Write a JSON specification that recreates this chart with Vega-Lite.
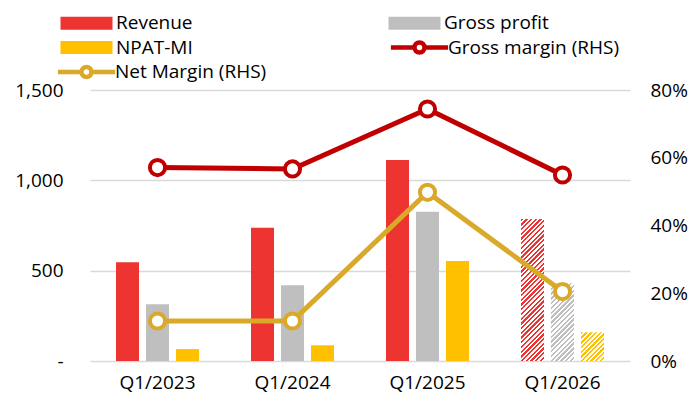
{
 "$schema": "https://vega.github.io/schema/vega-lite/v6.json",
 "width": 540, "height": 271,
 "autosize": {"type": "none"},
 "padding": {"left": 90, "top": 90, "right": 63, "bottom": 41},
 "background": "white",
 "config": {
  "font": "Open Sans",
  "view": {"stroke": null},
  "axis": {"labelFont": "Open Sans", "labelFontSize": 19, "labelColor": "#000", "domain": false, "ticks": false, "title": null},
  "legend": {"title": null, "orient": "none", "labelFont": "Open Sans", "labelFontSize": 19, "labelColor": "#000", "labelLimit": 400, "padding": 0, "symbolSize": 100, "symbolOpacity": 1, "rowPadding": 4.5}
 },
 "datasets": {
  "bars": [
   {"quarter": "Q1/2023", "series": "Revenue", "value": 546, "forecast": false},
   {"quarter": "Q1/2023", "series": "Gross profit", "value": 314, "forecast": false},
   {"quarter": "Q1/2023", "series": "NPAT-MI", "value": 66, "forecast": false},
   {"quarter": "Q1/2024", "series": "Revenue", "value": 738, "forecast": false},
   {"quarter": "Q1/2024", "series": "Gross profit", "value": 419, "forecast": false},
   {"quarter": "Q1/2024", "series": "NPAT-MI", "value": 87, "forecast": false},
   {"quarter": "Q1/2025", "series": "Revenue", "value": 1113, "forecast": false},
   {"quarter": "Q1/2025", "series": "Gross profit", "value": 826, "forecast": false},
   {"quarter": "Q1/2025", "series": "NPAT-MI", "value": 553, "forecast": false},
   {"quarter": "Q1/2026", "series": "Revenue", "value": 786, "forecast": true},
   {"quarter": "Q1/2026", "series": "Gross profit", "value": 430, "forecast": true},
   {"quarter": "Q1/2026", "series": "NPAT-MI", "value": 159, "forecast": true}
  ],
  "margins": [
   {"quarter": "Q1/2023", "series": "Gross margin (RHS)", "margin": 0.571},
   {"quarter": "Q1/2024", "series": "Gross margin (RHS)", "margin": 0.567},
   {"quarter": "Q1/2025", "series": "Gross margin (RHS)", "margin": 0.744},
   {"quarter": "Q1/2026", "series": "Gross margin (RHS)", "margin": 0.549},
   {"quarter": "Q1/2023", "series": "Net Margin (RHS)", "margin": 0.118},
   {"quarter": "Q1/2024", "series": "Net Margin (RHS)", "margin": 0.118},
   {"quarter": "Q1/2025", "series": "Net Margin (RHS)", "margin": 0.498},
   {"quarter": "Q1/2026", "series": "Net Margin (RHS)", "margin": 0.205}
  ]
 },
 "layer": [
  {
   "data": {"name": "bars"},
   "encoding": {
    "x": {"field": "quarter", "type": "nominal", "scale": {"domain": ["Q1/2023", "Q1/2024", "Q1/2025", "Q1/2026"], "paddingInner": 0, "paddingOuter": 0}, "axis": {"labelAngle": 0, "labelPadding": 12, "grid": false}},
    "xOffset": {"field": "series", "type": "nominal", "scale": {"domain": ["Revenue", "Gross profit", "NPAT-MI"], "paddingInner": 0.233, "paddingOuter": 0.867}},
    "y": {"field": "value", "type": "quantitative", "scale": {"domain": [0, 1500]}, "axis": {"orient": "left", "values": [0, 500, 1000, 1500], "labelExpr": "datum.value === 0 ? '-\u00a0\u00a0' : format(datum.value, ',')", "grid": true, "gridColor": "#d9d9d9", "gridWidth": 1.5, "labelPadding": 27}}
   },
   "layer": [
    {
     "transform": [{"filter": "!datum.forecast"}],
     "mark": {"type": "bar"},
     "encoding": {
      "fill": {"field": "series", "type": "nominal",
       "scale": {"domain": ["Revenue", "Gross profit", "NPAT-MI"], "range": ["#EE3430", "#BFBFBF", "#FFC000"]},
       "legend": {"legendX": -34, "legendY": -76.5, "direction": "horizontal", "columns": 2, "columnPadding": 191, "symbolType": "M-1,-1.3H9.4V1.3H-1Z", "symbolStrokeWidth": 0, "labelOffset": 41}
      }
     }
    },
    {
     "transform": [{"filter": "datum.forecast && datum.series === 'Revenue'"}],
     "mark": {"type": "bar", "fill": {"gradient": "linear", "x1": 0, "y1": 0, "x2": 0.1834, "y2": 1.1323, "stops": [
      {"offset": 0, "color": "#EE3430"},
      {"offset": 0.0143, "color": "#EE3430"}, {"offset": 0.0143, "color": "#fff"},
      {"offset": 0.0286, "color": "#fff"}, {"offset": 0.0286, "color": "#EE3430"},
      {"offset": 0.0429, "color": "#EE3430"}, {"offset": 0.0429, "color": "#fff"},
      {"offset": 0.0571, "color": "#fff"}, {"offset": 0.0571, "color": "#EE3430"},
      {"offset": 0.0714, "color": "#EE3430"}, {"offset": 0.0714, "color": "#fff"},
      {"offset": 0.0857, "color": "#fff"}, {"offset": 0.0857, "color": "#EE3430"},
      {"offset": 0.1, "color": "#EE3430"}, {"offset": 0.1, "color": "#fff"},
      {"offset": 0.1143, "color": "#fff"}, {"offset": 0.1143, "color": "#EE3430"},
      {"offset": 0.1286, "color": "#EE3430"}, {"offset": 0.1286, "color": "#fff"},
      {"offset": 0.1429, "color": "#fff"}, {"offset": 0.1429, "color": "#EE3430"},
      {"offset": 0.1571, "color": "#EE3430"}, {"offset": 0.1571, "color": "#fff"},
      {"offset": 0.1714, "color": "#fff"}, {"offset": 0.1714, "color": "#EE3430"},
      {"offset": 0.1857, "color": "#EE3430"}, {"offset": 0.1857, "color": "#fff"},
      {"offset": 0.2, "color": "#fff"}, {"offset": 0.2, "color": "#EE3430"},
      {"offset": 0.2143, "color": "#EE3430"}, {"offset": 0.2143, "color": "#fff"},
      {"offset": 0.2286, "color": "#fff"}, {"offset": 0.2286, "color": "#EE3430"},
      {"offset": 0.2429, "color": "#EE3430"}, {"offset": 0.2429, "color": "#fff"},
      {"offset": 0.2571, "color": "#fff"}, {"offset": 0.2571, "color": "#EE3430"},
      {"offset": 0.2714, "color": "#EE3430"}, {"offset": 0.2714, "color": "#fff"},
      {"offset": 0.2857, "color": "#fff"}, {"offset": 0.2857, "color": "#EE3430"},
      {"offset": 0.3, "color": "#EE3430"}, {"offset": 0.3, "color": "#fff"},
      {"offset": 0.3143, "color": "#fff"}, {"offset": 0.3143, "color": "#EE3430"},
      {"offset": 0.3286, "color": "#EE3430"}, {"offset": 0.3286, "color": "#fff"},
      {"offset": 0.3429, "color": "#fff"}, {"offset": 0.3429, "color": "#EE3430"},
      {"offset": 0.3571, "color": "#EE3430"}, {"offset": 0.3571, "color": "#fff"},
      {"offset": 0.3714, "color": "#fff"}, {"offset": 0.3714, "color": "#EE3430"},
      {"offset": 0.3857, "color": "#EE3430"}, {"offset": 0.3857, "color": "#fff"},
      {"offset": 0.4, "color": "#fff"}, {"offset": 0.4, "color": "#EE3430"},
      {"offset": 0.4143, "color": "#EE3430"}, {"offset": 0.4143, "color": "#fff"},
      {"offset": 0.4286, "color": "#fff"}, {"offset": 0.4286, "color": "#EE3430"},
      {"offset": 0.4429, "color": "#EE3430"}, {"offset": 0.4429, "color": "#fff"},
      {"offset": 0.4571, "color": "#fff"}, {"offset": 0.4571, "color": "#EE3430"},
      {"offset": 0.4714, "color": "#EE3430"}, {"offset": 0.4714, "color": "#fff"},
      {"offset": 0.4857, "color": "#fff"}, {"offset": 0.4857, "color": "#EE3430"},
      {"offset": 0.5, "color": "#EE3430"}, {"offset": 0.5, "color": "#fff"},
      {"offset": 0.5143, "color": "#fff"}, {"offset": 0.5143, "color": "#EE3430"},
      {"offset": 0.5286, "color": "#EE3430"}, {"offset": 0.5286, "color": "#fff"},
      {"offset": 0.5429, "color": "#fff"}, {"offset": 0.5429, "color": "#EE3430"},
      {"offset": 0.5571, "color": "#EE3430"}, {"offset": 0.5571, "color": "#fff"},
      {"offset": 0.5714, "color": "#fff"}, {"offset": 0.5714, "color": "#EE3430"},
      {"offset": 0.5857, "color": "#EE3430"}, {"offset": 0.5857, "color": "#fff"},
      {"offset": 0.6, "color": "#fff"}, {"offset": 0.6, "color": "#EE3430"},
      {"offset": 0.6143, "color": "#EE3430"}, {"offset": 0.6143, "color": "#fff"},
      {"offset": 0.6286, "color": "#fff"}, {"offset": 0.6286, "color": "#EE3430"},
      {"offset": 0.6429, "color": "#EE3430"}, {"offset": 0.6429, "color": "#fff"},
      {"offset": 0.6571, "color": "#fff"}, {"offset": 0.6571, "color": "#EE3430"},
      {"offset": 0.6714, "color": "#EE3430"}, {"offset": 0.6714, "color": "#fff"},
      {"offset": 0.6857, "color": "#fff"}, {"offset": 0.6857, "color": "#EE3430"},
      {"offset": 0.7, "color": "#EE3430"}, {"offset": 0.7, "color": "#fff"},
      {"offset": 0.7143, "color": "#fff"}, {"offset": 0.7143, "color": "#EE3430"},
      {"offset": 0.7286, "color": "#EE3430"}, {"offset": 0.7286, "color": "#fff"},
      {"offset": 0.7429, "color": "#fff"}, {"offset": 0.7429, "color": "#EE3430"},
      {"offset": 0.7571, "color": "#EE3430"}, {"offset": 0.7571, "color": "#fff"},
      {"offset": 0.7714, "color": "#fff"}, {"offset": 0.7714, "color": "#EE3430"},
      {"offset": 0.7857, "color": "#EE3430"}, {"offset": 0.7857, "color": "#fff"},
      {"offset": 0.8, "color": "#fff"}, {"offset": 0.8, "color": "#EE3430"},
      {"offset": 0.8143, "color": "#EE3430"}, {"offset": 0.8143, "color": "#fff"},
      {"offset": 0.8286, "color": "#fff"}, {"offset": 0.8286, "color": "#EE3430"},
      {"offset": 0.8429, "color": "#EE3430"}, {"offset": 0.8429, "color": "#fff"},
      {"offset": 0.8571, "color": "#fff"}, {"offset": 0.8571, "color": "#EE3430"},
      {"offset": 0.8714, "color": "#EE3430"}, {"offset": 0.8714, "color": "#fff"},
      {"offset": 0.8857, "color": "#fff"}, {"offset": 0.8857, "color": "#EE3430"},
      {"offset": 0.9, "color": "#EE3430"}, {"offset": 0.9, "color": "#fff"},
      {"offset": 0.9143, "color": "#fff"}, {"offset": 0.9143, "color": "#EE3430"},
      {"offset": 0.9286, "color": "#EE3430"}, {"offset": 0.9286, "color": "#fff"},
      {"offset": 0.9429, "color": "#fff"}, {"offset": 0.9429, "color": "#EE3430"},
      {"offset": 0.9571, "color": "#EE3430"}, {"offset": 0.9571, "color": "#fff"},
      {"offset": 0.9714, "color": "#fff"}, {"offset": 0.9714, "color": "#EE3430"},
      {"offset": 0.9857, "color": "#EE3430"}, {"offset": 0.9857, "color": "#fff"},
      {"offset": 1, "color": "#fff"}
     ]}}
    },
    {
     "transform": [{"filter": "datum.forecast && datum.series === 'Gross profit'"}],
     "mark": {"type": "bar", "fill": {"gradient": "linear", "x1": 0, "y1": 0, "x2": 0.3527, "y2": 1.1916, "stops": [
      {"offset": 0, "color": "#BFBFBF"},
      {"offset": 0.0238, "color": "#BFBFBF"}, {"offset": 0.0238, "color": "#fff"},
      {"offset": 0.0476, "color": "#fff"}, {"offset": 0.0476, "color": "#BFBFBF"},
      {"offset": 0.0714, "color": "#BFBFBF"}, {"offset": 0.0714, "color": "#fff"},
      {"offset": 0.0952, "color": "#fff"}, {"offset": 0.0952, "color": "#BFBFBF"},
      {"offset": 0.119, "color": "#BFBFBF"}, {"offset": 0.119, "color": "#fff"},
      {"offset": 0.1429, "color": "#fff"}, {"offset": 0.1429, "color": "#BFBFBF"},
      {"offset": 0.1667, "color": "#BFBFBF"}, {"offset": 0.1667, "color": "#fff"},
      {"offset": 0.1905, "color": "#fff"}, {"offset": 0.1905, "color": "#BFBFBF"},
      {"offset": 0.2143, "color": "#BFBFBF"}, {"offset": 0.2143, "color": "#fff"},
      {"offset": 0.2381, "color": "#fff"}, {"offset": 0.2381, "color": "#BFBFBF"},
      {"offset": 0.2619, "color": "#BFBFBF"}, {"offset": 0.2619, "color": "#fff"},
      {"offset": 0.2857, "color": "#fff"}, {"offset": 0.2857, "color": "#BFBFBF"},
      {"offset": 0.3095, "color": "#BFBFBF"}, {"offset": 0.3095, "color": "#fff"},
      {"offset": 0.3333, "color": "#fff"}, {"offset": 0.3333, "color": "#BFBFBF"},
      {"offset": 0.3571, "color": "#BFBFBF"}, {"offset": 0.3571, "color": "#fff"},
      {"offset": 0.381, "color": "#fff"}, {"offset": 0.381, "color": "#BFBFBF"},
      {"offset": 0.4048, "color": "#BFBFBF"}, {"offset": 0.4048, "color": "#fff"},
      {"offset": 0.4286, "color": "#fff"}, {"offset": 0.4286, "color": "#BFBFBF"},
      {"offset": 0.4524, "color": "#BFBFBF"}, {"offset": 0.4524, "color": "#fff"},
      {"offset": 0.4762, "color": "#fff"}, {"offset": 0.4762, "color": "#BFBFBF"},
      {"offset": 0.5, "color": "#BFBFBF"}, {"offset": 0.5, "color": "#fff"},
      {"offset": 0.5238, "color": "#fff"}, {"offset": 0.5238, "color": "#BFBFBF"},
      {"offset": 0.5476, "color": "#BFBFBF"}, {"offset": 0.5476, "color": "#fff"},
      {"offset": 0.5714, "color": "#fff"}, {"offset": 0.5714, "color": "#BFBFBF"},
      {"offset": 0.5952, "color": "#BFBFBF"}, {"offset": 0.5952, "color": "#fff"},
      {"offset": 0.619, "color": "#fff"}, {"offset": 0.619, "color": "#BFBFBF"},
      {"offset": 0.6429, "color": "#BFBFBF"}, {"offset": 0.6429, "color": "#fff"},
      {"offset": 0.6667, "color": "#fff"}, {"offset": 0.6667, "color": "#BFBFBF"},
      {"offset": 0.6905, "color": "#BFBFBF"}, {"offset": 0.6905, "color": "#fff"},
      {"offset": 0.7143, "color": "#fff"}, {"offset": 0.7143, "color": "#BFBFBF"},
      {"offset": 0.7381, "color": "#BFBFBF"}, {"offset": 0.7381, "color": "#fff"},
      {"offset": 0.7619, "color": "#fff"}, {"offset": 0.7619, "color": "#BFBFBF"},
      {"offset": 0.7857, "color": "#BFBFBF"}, {"offset": 0.7857, "color": "#fff"},
      {"offset": 0.8095, "color": "#fff"}, {"offset": 0.8095, "color": "#BFBFBF"},
      {"offset": 0.8333, "color": "#BFBFBF"}, {"offset": 0.8333, "color": "#fff"},
      {"offset": 0.8571, "color": "#fff"}, {"offset": 0.8571, "color": "#BFBFBF"},
      {"offset": 0.881, "color": "#BFBFBF"}, {"offset": 0.881, "color": "#fff"},
      {"offset": 0.9048, "color": "#fff"}, {"offset": 0.9048, "color": "#BFBFBF"},
      {"offset": 0.9286, "color": "#BFBFBF"}, {"offset": 0.9286, "color": "#fff"},
      {"offset": 0.9524, "color": "#fff"}, {"offset": 0.9524, "color": "#BFBFBF"},
      {"offset": 0.9762, "color": "#BFBFBF"}, {"offset": 0.9762, "color": "#fff"},
      {"offset": 1, "color": "#fff"}
     ]}}
    },
    {
     "transform": [{"filter": "datum.forecast && datum.series === 'NPAT-MI'"}],
     "mark": {"type": "bar", "fill": {"gradient": "linear", "x1": 0, "y1": 0, "x2": 0.8791, "y2": 1.0969, "stops": [
      {"offset": 0, "color": "#FFC000"},
      {"offset": 0.0455, "color": "#FFC000"}, {"offset": 0.0455, "color": "#fff"},
      {"offset": 0.0909, "color": "#fff"}, {"offset": 0.0909, "color": "#FFC000"},
      {"offset": 0.1364, "color": "#FFC000"}, {"offset": 0.1364, "color": "#fff"},
      {"offset": 0.1818, "color": "#fff"}, {"offset": 0.1818, "color": "#FFC000"},
      {"offset": 0.2273, "color": "#FFC000"}, {"offset": 0.2273, "color": "#fff"},
      {"offset": 0.2727, "color": "#fff"}, {"offset": 0.2727, "color": "#FFC000"},
      {"offset": 0.3182, "color": "#FFC000"}, {"offset": 0.3182, "color": "#fff"},
      {"offset": 0.3636, "color": "#fff"}, {"offset": 0.3636, "color": "#FFC000"},
      {"offset": 0.4091, "color": "#FFC000"}, {"offset": 0.4091, "color": "#fff"},
      {"offset": 0.4545, "color": "#fff"}, {"offset": 0.4545, "color": "#FFC000"},
      {"offset": 0.5, "color": "#FFC000"}, {"offset": 0.5, "color": "#fff"},
      {"offset": 0.5455, "color": "#fff"}, {"offset": 0.5455, "color": "#FFC000"},
      {"offset": 0.5909, "color": "#FFC000"}, {"offset": 0.5909, "color": "#fff"},
      {"offset": 0.6364, "color": "#fff"}, {"offset": 0.6364, "color": "#FFC000"},
      {"offset": 0.6818, "color": "#FFC000"}, {"offset": 0.6818, "color": "#fff"},
      {"offset": 0.7273, "color": "#fff"}, {"offset": 0.7273, "color": "#FFC000"},
      {"offset": 0.7727, "color": "#FFC000"}, {"offset": 0.7727, "color": "#fff"},
      {"offset": 0.8182, "color": "#fff"}, {"offset": 0.8182, "color": "#FFC000"},
      {"offset": 0.8636, "color": "#FFC000"}, {"offset": 0.8636, "color": "#fff"},
      {"offset": 0.9091, "color": "#fff"}, {"offset": 0.9091, "color": "#FFC000"},
      {"offset": 0.9545, "color": "#FFC000"}, {"offset": 0.9545, "color": "#fff"},
      {"offset": 1, "color": "#fff"}
     ]}}
    }
   ]
  },
  {
   "data": {"name": "margins"},
   "encoding": {
    "x": {"field": "quarter", "type": "nominal"},
    "y": {"field": "margin", "type": "quantitative", "scale": {"domain": [0, 0.8]}, "axis": {"orient": "right", "values": [0, 0.2, 0.4, 0.6, 0.8], "format": ".0%", "grid": false, "labelPadding": 20}}
   },
   "layer": [
    {
     "transform": [{"filter": "datum.series === 'Gross margin (RHS)'"}],
     "encoding": {
      "stroke": {"field": "series", "type": "nominal", "scale": {"domain": ["Gross margin (RHS)"], "range": ["#C00000"]},
       "legend": {"legendX": 299, "legendY": -52, "symbolType": "M-1.52,0H3.2M5.2,0H9.92M5.2,0A1,1 0 1,1 3.2,0A1,1 0 1,1 5.2,0", "symbolStrokeWidth": 4.5, "symbolFillColor": "#ffffff", "labelOffset": 40}}
     },
     "layer": [
      {"mark": {"type": "line", "strokeWidth": 5}},
      {"mark": {"type": "point", "shape": "circle", "filled": false, "fill": "#ffffff", "fillOpacity": 1, "opacity": 1, "size": 230, "strokeWidth": 4}}
     ]
    },
    {
     "transform": [{"filter": "datum.series === 'Net Margin (RHS)'"}],
     "encoding": {
      "color": {"field": "series", "type": "nominal", "scale": {"domain": ["Net Margin (RHS)"], "range": ["#DAA92A"]},
       "legend": {"legendX": -34, "legendY": -27.5, "symbolType": "M-1.52,0H3.2M5.2,0H9.92M5.2,0A1,1 0 1,1 3.2,0A1,1 0 1,1 5.2,0", "symbolStrokeWidth": 4.5, "symbolFillColor": "#ffffff", "labelOffset": 40}}
     },
     "layer": [
      {"mark": {"type": "line", "strokeWidth": 5}},
      {"mark": {"type": "point", "shape": "circle", "filled": false, "fill": "#ffffff", "fillOpacity": 1, "opacity": 1, "size": 230, "strokeWidth": 4}}
     ]
    }
   ]
  }
 ],
 "resolve": {"scale": {"y": "independent"}}
}
